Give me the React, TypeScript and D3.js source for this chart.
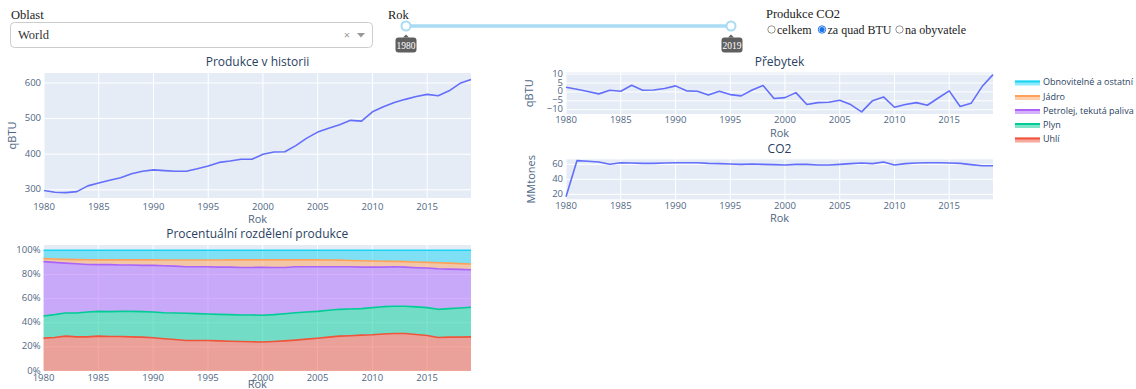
import React from 'react';
import * as d3 from 'd3';

const years = d3.range(1980, 2020);
const production = [298, 293, 292, 295, 311, 319, 327, 334, 345, 352, 356, 354, 352, 352, 359, 367, 377, 381, 386, 386, 400, 406, 407, 424, 445, 462, 473, 483, 495, 493, 519, 533, 545, 554, 562, 568, 564, 578, 599, 610];
const surplus = [2.6, 1.5, 0.2, -1.1, 0.9, 0.4, 3.7, 0.9, 1.1, 1.9, 3.4, 0.6, 0.4, -1.7, 0.4, -1.5, -2.2, 1.1, 3.6, -3.7, -3.2, -0.4, -7.1, -6.0, -5.8, -4.7, -7.1, -11.2, -4.9, -2.8, -8.6, -7.1, -6.0, -7.5, -3.4, 0.6, -8.2, -6.4, 3.0, 9.7];
const co2 = [16.9, 64.9, 64.0, 63.1, 60.0, 62.2, 61.8, 61.3, 61.3, 61.8, 62.2, 62.2, 62.2, 61.3, 60.9, 60.4, 60.0, 60.4, 60.0, 59.6, 59.1, 60.0, 60.0, 59.1, 59.1, 60.0, 60.9, 61.8, 60.9, 63.1, 59.1, 60.9, 61.8, 62.2, 62.2, 61.8, 61.3, 59.6, 58.2, 58.2];

const shareCoal = [27.2, 27.8, 28.9, 28.3, 28.3, 28.9, 28.6, 28.6, 28.3, 28.1, 27.5, 26.7, 26.1, 25.3, 25.3, 25.3, 25.0, 24.7, 24.4, 24.2, 24.0, 24.4, 25.0, 25.6, 26.4, 27.2, 28.1, 28.9, 29.2, 29.7, 30.0, 30.6, 31.1, 31.1, 30.3, 29.4, 27.8, 28.1, 28.1, 28.3];
const shareGas = [18.4, 18.9, 19.2, 19.8, 20.6, 20.5, 20.6, 20.8, 21.1, 21.1, 21.4, 21.6, 22.0, 22.5, 22.2, 21.9, 21.9, 22.0, 22.0, 22.2, 22.2, 22.3, 22.5, 22.7, 22.5, 22.2, 22.2, 22.2, 22.2, 22.0, 22.5, 22.7, 22.5, 22.5, 22.8, 23.1, 23.3, 23.6, 24.1, 24.5];
const shareOil = [45.0, 43.3, 41.3, 40.8, 39.4, 38.7, 38.9, 38.4, 38.4, 38.3, 38.6, 38.9, 38.8, 38.6, 38.9, 39.2, 39.2, 39.4, 39.4, 39.4, 39.7, 39.1, 38.3, 38.1, 37.5, 37.0, 36.1, 35.3, 35.0, 34.4, 33.6, 32.8, 32.8, 32.5, 32.5, 32.8, 33.6, 32.7, 32.0, 31.1];
const shareNuclear = [2.5, 2.8, 3.1, 3.4, 3.9, 4.0, 4.0, 4.3, 4.3, 4.6, 4.6, 4.8, 5.1, 5.6, 5.6, 5.6, 5.9, 6.0, 6.3, 6.3, 6.2, 6.3, 6.3, 5.7, 5.7, 5.7, 5.6, 5.5, 5.2, 5.3, 5.0, 4.8, 4.4, 4.5, 4.7, 4.7, 5.0, 5.0, 4.8, 4.7];
const shareRenew = [6.9, 7.2, 7.5, 7.7, 7.8, 7.9, 7.9, 7.9, 7.9, 7.9, 7.9, 8.0, 8.0, 8.0, 8.0, 8.0, 8.0, 7.9, 7.9, 7.9, 7.9, 7.9, 7.9, 7.9, 7.9, 7.9, 8.0, 8.1, 8.4, 8.6, 8.9, 9.1, 9.2, 9.4, 9.7, 10.0, 10.3, 10.6, 11.0, 11.4];

const sourceKeys = ['coal', 'gas', 'oil', 'nuclear', 'renew'];
const sourceNames = ['Uhlí', 'Plyn', 'Petrolej, tekutá paliva', 'Jádro', 'Obnovitelné a ostatní'];
const sourceColors = ['#EF553B', '#00CC96', '#AB63FA', '#FFA15A', '#19D3F3'];

const xTicks = [1980, 1985, 1990, 1995, 2000, 2005, 2010, 2015];
const prodTicks = [300, 400, 500, 600];
const surplusTicks = [-10, -5, 0, 5, 10];
const co2Ticks = [20, 40, 60];
const pctTicks = [0, 20, 40, 60, 80, 100];

const FONT = '"Open Sans", "DejaVu Sans", sans-serif';
const TXT = '#2a3f5f';
const TICK = '#506784';
const BG = '#E5ECF6';
const LINE = '#636EFA';

type PanelProps = {
  x0: number; x1: number; y0: number; y1: number;
  yDomain: [number, number]; yTicks: number[]; yFmt: (v: number) => string;
  title: string; titleY: number; yTitle?: string; yTitleX?: number;
  xTickY: number; xTitleY: number;
  children: (x: d3.ScaleLinear<number, number>, y: d3.ScaleLinear<number, number>) => React.ReactNode;
};

function Panel(p: PanelProps) {
  const x = d3.scaleLinear().domain([1980, 2019]).range([p.x0, p.x1]);
  const y = d3.scaleLinear().domain(p.yDomain).range([p.y1, p.y0]);
  const cx = (p.x0 + p.x1) / 2;
  return (
    <g fontFamily={FONT}>
      <rect x={p.x0} y={p.y0} width={p.x1 - p.x0} height={p.y1 - p.y0} fill={BG} />
      {xTicks.map(t => (
        <line key={'gx' + t} x1={x(t)} x2={x(t)} y1={p.y0} y2={p.y1} stroke="#fff" strokeWidth={1} />
      ))}
      {p.yTicks.map(t => (
        <line key={'gy' + t} x1={p.x0} x2={p.x1} y1={y(t)} y2={y(t)} stroke="#fff" strokeWidth={1} />
      ))}
      {p.children(x, y)}
      {xTicks.map(t => (
        <text key={'tx' + t} x={x(t)} y={p.xTickY} fontSize={9.5} fill={TICK} textAnchor="middle" dominantBaseline="middle">{t}</text>
      ))}
      {p.yTicks.map(t => (
        <text key={'ty' + t} x={p.x0 - 3} y={y(t)} fontSize={9.5} fill={TICK} textAnchor="end" dominantBaseline="middle">{p.yFmt(t)}</text>
      ))}
      <text x={cx} y={p.titleY} fontSize={12} fill={TXT} textAnchor="middle" dominantBaseline="middle">{p.title}</text>
      <text x={cx} y={p.xTitleY} fontSize={11} fill={TICK} textAnchor="middle" dominantBaseline="middle">Rok</text>
      {p.yTitle && (
        <text transform={`translate(${p.yTitleX},${(p.y0 + p.y1) / 2}) rotate(-90)`} fontSize={11} fill={TICK} textAnchor="middle" dominantBaseline="middle">{p.yTitle}</text>
      )}
    </g>
  );
}

export default function App() {
  const rows = years.map((yr, i) => ({
    year: yr,
    coal: shareCoal[i], gas: shareGas[i], oil: shareOil[i], nuclear: shareNuclear[i], renew: shareRenew[i],
  }));
  const stacked = d3.stack<any>().keys(sourceKeys)(rows);
  const minus = (v: number) => (v < 0 ? '\u2212' + Math.abs(v) : String(v));

  const legendYs = [83, 97.5, 111.5, 125.5, 140];
  const legendOrder = [4, 3, 2, 1, 0];

  return (
    <svg width={1136} height={389} style={{ position: 'absolute', left: 0, top: 0, background: '#fff' }}>
      {/* Header controls */}
      <g fontFamily='"Liberation Serif", "DejaVu Serif", serif' fill="#222">
        <text x={11} y={19} fontSize={12.5}>Oblast</text>
        <rect x={10.5} y={22.5} width={362} height={25} rx={4} fill="#fff" stroke="#ccc" />
        <text x={18} y={39} fontSize={12.5} fill="#333">World</text>
        <text x={347} y={38.5} fontSize={11} fill="#999" textAnchor="middle" fontFamily={FONT}>×</text>
        <path d="M357,33 L365,33 L361,37.5 Z" fill="#999" />

        <text x={388} y={19} fontSize={12.5}>Rok</text>
        <line x1={406} x2={731} y1={26} y2={26} stroke="#A9DCF4" strokeWidth={3.5} />
        <circle cx={406} cy={26} r={4.5} fill="#fff" stroke="#A9DCF4" strokeWidth={2} />
        <circle cx={731} cy={26} r={4.5} fill="#fff" stroke="#A9DCF4" strokeWidth={2} />
        <rect x={395.5} y={37.5} width={21} height={15} rx={3} fill="#5f5f5f" />
        <path d="M403,37.5 L406,34.5 L409,37.5 Z" fill="#5f5f5f" />
        <text x={406} y={48.5} fontSize={9.5} fill="#fff" textAnchor="middle">1980</text>
        <rect x={721.5} y={37.5} width={21} height={15} rx={3} fill="#5f5f5f" />
        <path d="M728,37.5 L731,34.5 L734,37.5 Z" fill="#5f5f5f" />
        <text x={732} y={48.5} fontSize={9.5} fill="#fff" textAnchor="middle">2019</text>

        <text x={766} y={18} fontSize={12.5}>Produkce CO2</text>
        <circle cx={771.5} cy={29.5} r={3.7} fill="#fff" stroke="#777" strokeWidth={0.8} />
        <text x={777} y={33.5} fontSize={12}>celkem</text>
        <circle cx={822} cy={29.5} r={3.7} fill="#fff" stroke="#1a73e8" strokeWidth={1} />
        <circle cx={822} cy={29.5} r={2.6} fill="#1a73e8" />
        <text x={827.5} y={33.5} fontSize={12}>za quad BTU</text>
        <circle cx={899.5} cy={29.5} r={3.7} fill="#fff" stroke="#777" strokeWidth={0.8} />
        <text x={905} y={33.5} fontSize={12}>na obyvatele</text>
      </g>

      {/* Produkce v historii */}
      <Panel x0={44} x1={471} y0={73} y1={198} yDomain={[277, 628]} yTicks={prodTicks} yFmt={String}
        title="Produkce v historii" titleY={63} yTitle="qBTU" yTitleX={13} xTickY={207} xTitleY={220}>
        {(x, y) => (
          <path d={d3.line<number>().x((_, i) => x(years[i])).y(v => y(v))(production) || ''}
            fill="none" stroke={LINE} strokeWidth={1.6} strokeLinejoin="round" />
        )}
      </Panel>

      {/* Přebytek */}
      <Panel x0={566} x1={993} y0={72.5} y1={114} yDomain={[-12.4, 10.9]} yTicks={surplusTicks} yFmt={minus}
        title="Přebytek" titleY={63} yTitle="qBTU" yTitleX={530} xTickY={120.5} xTitleY={134}>
        {(x, y) => (
          <path d={d3.line<number>().x((_, i) => x(years[i])).y(v => y(v))(surplus) || ''}
            fill="none" stroke={LINE} strokeWidth={1.6} strokeLinejoin="round" />
        )}
      </Panel>

      {/* CO2 */}
      <Panel x0={566} x1={993} y0={159.3} y1={199.3} yDomain={[13.4, 66.7]} yTicks={co2Ticks} yFmt={String}
        title="CO2" titleY={150} yTitle="MMtones" yTitleX={532} xTickY={206.5} xTitleY={219}>
        {(x, y) => (
          <path d={d3.line<number>().x((_, i) => x(years[i])).y(v => y(v))(co2) || ''}
            fill="none" stroke={LINE} strokeWidth={1.6} strokeLinejoin="round" />
        )}
      </Panel>

      {/* Procentuální rozdělení produkce */}
      <Panel x0={43.5} x1={471} y0={245} y1={371} yDomain={[0, 104.4]} yTicks={pctTicks} yFmt={v => v + '%'}
        title="Procentuální rozdělení produkce" titleY={235} xTickY={378} xTitleY={385}>
        {(x, y) => (
          <g>
            {stacked.map((layer, k) => (
              <path key={'a' + k}
                d={d3.area<any>().x((d) => x(d.data.year)).y0(d => y(d[0])).y1(d => y(d[1]))(layer) || ''}
                fill={sourceColors[k]} fillOpacity={0.5} stroke="none" />
            ))}
            {stacked.map((layer, k) => (
              <path key={'l' + k}
                d={d3.line<any>().x((d) => x(d.data.year)).y(d => y(d[1]))(layer) || ''}
                fill="none" stroke={sourceColors[k]} strokeWidth={1.6} strokeLinejoin="round" />
            ))}
          </g>
        )}
      </Panel>

      {/* Legend */}
      <g fontFamily={FONT}>
        {legendOrder.map((k, j) => (
          <g key={'lg' + k}>
            <rect x={1015} y={legendYs[j] - 2.5} width={25} height={5} fill={sourceColors[k]} fillOpacity={0.5} />
            <line x1={1015} x2={1040} y1={legendYs[j] - 1.5} y2={legendYs[j] - 1.5} stroke={sourceColors[k]} strokeWidth={2} />
            <text x={1043} y={legendYs[j]} fontSize={9} fill={TXT} dominantBaseline="middle">{sourceNames[k]}</text>
          </g>
        ))}
      </g>
    </svg>
  );
}
